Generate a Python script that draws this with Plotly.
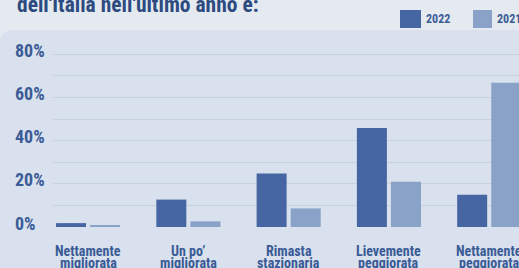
import plotly.graph_objects as go

# ---- data ----
categories = ["Nettamente migliorata", "Un po’ migliorata", "Rimasta stazionaria",
              "Lievemente peggiorata", "Nettamente peggiorata"]
cat_line1 = ["Nettamente", "Un po’", "Rimasta", "Lievemente", "Nettamente"]
cat_line2 = ["migliorata", "migliorata", "stazionaria", "peggiorata", "peggiorata"]
series_names = ["2022", "2021"]
values_2022 = [1.8, 12.7, 24.8, 45.8, 14.9]
values_2021 = [0.9, 2.6, 8.6, 21.0, 66.8]
y_ticks = [0, 20, 40, 60, 80]
y_tick_labels = ["0%", "20%", "40%", "60%", "80%"]
title_text = "dell'Italia nell'ultimo anno è:"

# ---- style ----
W, H = 519, 268
ML, MR, MT, MB = 53, 0, 40, 41
PW, PH = W - ML - MR, H - MT - MB
FONT = "Roboto Condensed, DejaVu Sans Condensed, sans-serif"
C2022 = "#4566a2"
C2021 = "#8aa2c7"
TXT = "#3b5b96"
PANEL = "#d8e1ed"
BG = "#e5eaf1"


def px_x(px):
    return (px - ML) / PW


def px_y(py):
    return (H - MB - py) / PH


fig = go.Figure()
fig.add_trace(go.Bar(x=categories, y=values_2022, name=series_names[0],
                     marker=dict(color=C2022, line=dict(width=0))))
fig.add_trace(go.Bar(x=categories, y=values_2021, name=series_names[1],
                     marker=dict(color=C2021, line=dict(width=0))))

shapes = []
# panel with rounded top-left corner
x0, x1 = px_x(0), px_x(W + 5)
y0, y1 = px_y(H + 5), px_y(30)
rx, ry = 14 / PW, 14 / PH
shapes.append(dict(type="path", xref="paper", yref="paper", layer="below",
                   path=f"M {x0},{y0} L {x0},{y1 - ry} Q {x0},{y1} {x0 + rx},{y1} L {x1},{y1} L {x1},{y0} Z",
                   fillcolor=PANEL, line=dict(width=0)))
# baseline
shapes.append(dict(type="rect", xref="paper", yref="y", ysizemode="pixel", yanchor=0,
                   x0=0, x1=1, y0=-0.5, y1=-4.5, fillcolor="#7b93b9", line=dict(width=0), layer="above"))
# legend swatches
legend_boxes = [(400, 421), (473, 492)]
for (a, b), col in zip(legend_boxes, [C2022, C2021]):
    shapes.append(dict(type="rect", xref="paper", yref="paper",
                       x0=px_x(a), x1=px_x(b), y0=px_y(28), y1=px_y(10),
                       fillcolor=col, line=dict(width=0)))

annotations = []
# title (cut off at top)
annotations.append(dict(text=f"<b>{title_text}</b>", xref="paper", yref="paper", x=px_x(15), y=px_y(19),
                        xanchor="left", yanchor="bottom", showarrow=False,
                        font=dict(family=FONT, size=21.5, color="#2d4b80")))
# legend text
for name, xpx in zip(series_names, [424, 495]):
    annotations.append(dict(text=f"<b>{name}</b>", xref="paper", yref="paper", x=px_x(xpx), y=px_y(19),
                            xanchor="left", yanchor="middle", showarrow=False,
                            font=dict(family=FONT, size=12, color=TXT)))
# y tick labels (left-aligned)
for v, lab in zip(y_ticks, y_tick_labels):
    annotations.append(dict(text=f"<b>{lab}</b>", xref="paper", yref="y", x=px_x(13), y=v,
                            xanchor="left", yanchor="middle", yshift=4, showarrow=False,
                            font=dict(family=FONT, size=18, color=TXT)))
# x category labels (two tight lines)
for c, l1, l2 in zip(categories, cat_line1, cat_line2):
    annotations.append(dict(text=f"<b>{l1}</b>", xref="x", yref="paper", x=c, y=px_y(251),
                            xanchor="center", yanchor="middle", showarrow=False,
                            font=dict(family=FONT, size=14, color=TXT)))
    annotations.append(dict(text=f"<b>{l2}</b>", xref="x", yref="paper", x=c, y=px_y(263),
                            xanchor="center", yanchor="middle", showarrow=False,
                            font=dict(family=FONT, size=14, color=TXT)))

fig.update_layout(
    width=W, height=H,
    margin=dict(l=ML, r=MR, t=MT, b=MB, pad=0),
    paper_bgcolor=BG, plot_bgcolor="rgba(0,0,0,0)",
    barmode="group", bargap=0.32, bargroupgap=0.12,
    showlegend=False,
    shapes=shapes, annotations=annotations,
    xaxis=dict(range=[-0.35, 4.297], showticklabels=False, showgrid=False,
               zeroline=False, showline=False, ticks=""),
    yaxis=dict(range=[0, PH / 2.16], dtick=10, tick0=0, showticklabels=False,
               showgrid=True, gridcolor="#c6d1e0", gridwidth=1,
               zeroline=False, showline=False, ticks=""),
)

fig.write_html("out.html", config={"displayModeBar": False},
               post_script="document.body.style.margin='0';")
